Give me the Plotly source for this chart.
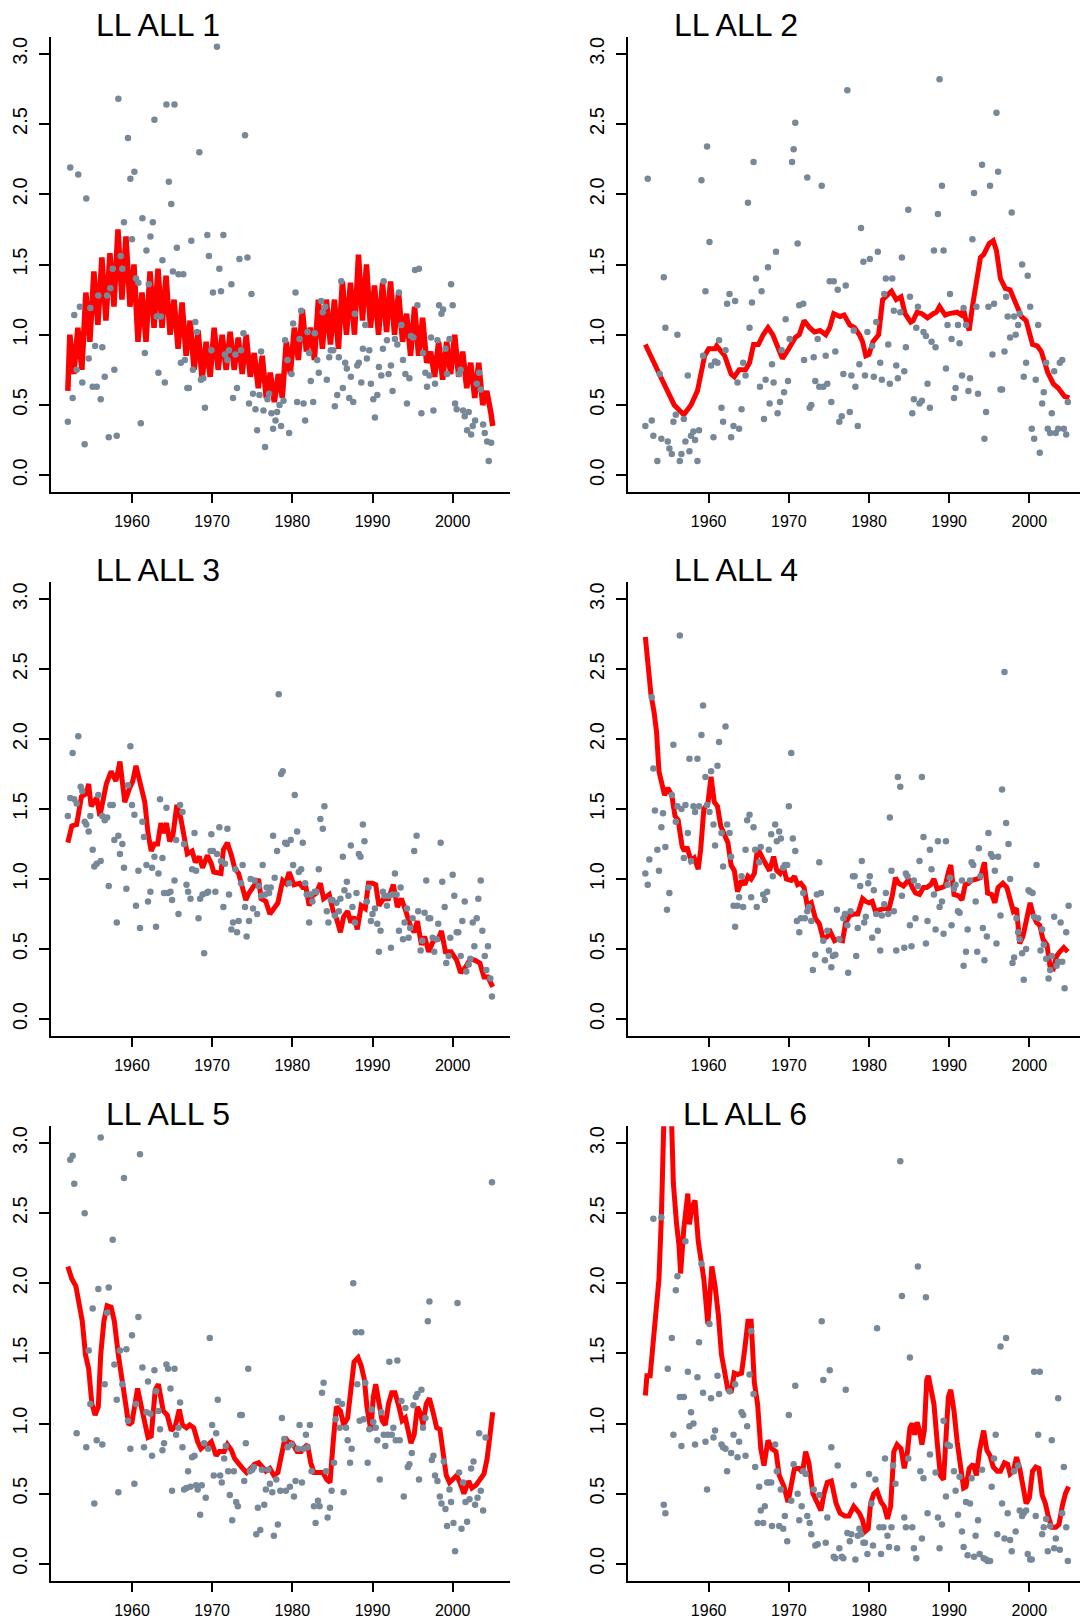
import plotly.graph_objects as go

# ---------------- data: (year, value) pairs ----------------
p1_points = [(1952.0,0.38),(1952.3,2.19),(1952.6,0.55),(1952.8,1.14),(1953.1,0.75),(1953.3,2.14),(1953.5,1.20),(1953.8,0.66),
(1954.1,0.22),(1954.3,1.97),(1954.6,0.83),(1954.8,1.19),(1955.1,0.63),(1955.4,0.92),(1955.6,0.63),(1955.8,1.28),(1956.1,0.54),
(1956.3,0.91),(1956.6,0.70),(1956.9,1.28),(1957.1,0.27),(1957.3,1.33),(1957.6,1.47),(1957.8,0.75),(1958.1,0.28),(1958.3,2.68),
(1958.6,1.56),(1958.8,1.47),(1959.0,1.80),(1959.5,2.40),(1959.8,2.11),(1960.0,1.68),(1960.3,2.16),(1960.5,1.40),(1960.8,1.37),
(1961.1,0.37),(1961.3,1.83),(1961.6,0.87),(1961.8,1.60),(1962.1,1.36),(1962.3,1.70),(1962.6,1.80),(1962.8,2.53),(1963.1,1.13),
(1963.3,0.73),(1963.6,1.13),(1963.8,1.53),(1964.1,0.66),(1964.3,2.64),(1964.6,2.09),(1964.9,1.93),(1965.1,1.45),(1965.3,2.64),
(1965.6,1.62),(1965.8,1.43),(1966.1,0.80),(1966.4,1.43),(1966.6,0.82),(1966.9,0.62),(1967.1,0.62),(1967.4,1.67),(1967.6,0.75),
(1967.9,1.09),(1968.1,1.02),(1968.4,2.30),(1968.6,0.68),(1968.9,0.69),(1969.1,0.48),(1969.4,1.71),(1969.6,1.56),(1969.9,0.89),
(1970.1,1.30),(1970.6,3.05),(1970.9,1.47),(1971.1,1.31),(1971.4,1.71),(1971.6,0.86),(1971.9,0.82),(1972.1,0.89),(1972.4,1.36),
(1972.6,0.55),(1972.9,0.86),(1973.1,0.62),(1973.4,1.54),(1973.6,0.89),(1973.9,1.01),(1974.1,2.42),(1974.4,1.55),(1974.6,0.51),
(1974.9,1.29),(1975.1,0.58),(1975.4,0.47),(1975.6,0.32),(1975.9,0.57),(1976.1,0.88),(1976.4,0.46),(1976.6,0.20),(1976.9,0.54),
(1977.1,0.58),(1977.4,0.44),(1977.6,0.33),(1977.9,0.39),(1978.1,0.45),(1978.4,0.50),(1978.6,0.35),(1978.9,0.53),(1979.1,0.96),
(1979.4,0.82),(1979.6,0.30),(1979.9,0.72),(1980.1,1.08),(1980.4,1.30),(1980.6,0.52),(1980.9,0.97),(1981.1,1.17),(1981.4,0.51),
(1981.6,0.39),(1981.9,1.02),(1982.1,0.87),(1982.3,0.67),(1982.6,0.52),(1982.8,1.01),(1983.1,0.82),(1983.3,0.73),(1983.6,1.24),
(1983.8,1.16),(1984.1,1.20),(1984.3,0.68),(1984.6,0.84),(1984.8,0.89),(1985.1,0.89),(1985.3,0.49),(1985.6,0.57),(1985.8,0.84),
(1986.1,1.38),(1986.3,0.62),(1986.6,0.80),(1986.8,0.76),(1987.1,0.55),(1987.3,0.70),(1987.6,0.52),(1987.8,1.15),(1988.1,0.78),
(1988.3,0.80),(1988.6,0.66),(1988.8,0.90),(1989.1,1.07),(1989.3,0.83),(1989.6,0.89),(1989.8,0.65),(1990.1,0.54),(1990.3,0.41),
(1990.6,0.57),(1990.8,0.77),(1991.1,0.71),(1991.3,0.90),(1991.4,1.38),(1991.8,0.96),(1992.0,0.72),(1992.3,0.78),(1992.5,0.60),
(1992.8,0.97),(1993.1,0.93),(1993.3,1.30),(1993.6,1.07),(1993.8,0.82),(1994.1,0.72),(1994.3,0.51),(1994.6,0.69),(1994.8,0.99),
(1995.1,0.98),(1995.3,1.46),(1995.6,1.21),(1995.8,1.47),(1996.1,0.44),(1996.3,0.87),(1996.6,0.73),(1996.8,0.63),(1997.1,0.71),
(1997.3,0.98),(1997.6,0.46),(1997.8,0.65),(1998.1,0.96),(1998.3,1.21),(1998.6,1.15),(1998.8,1.18),(1999.1,0.90),(1999.3,0.72),
(1999.6,0.97),(1999.8,1.36),(2000.0,1.21),(2000.3,0.51),(2000.5,0.47),(2000.8,0.72),(2001.0,0.75),(2001.3,0.46),(2001.5,0.42),
(2001.8,0.32),(2002.0,0.45),(2002.3,0.29),(2002.5,0.35),(2002.8,0.39),(2003.0,0.65),(2003.3,0.73),(2003.5,0.61),(2003.8,0.36),
(2004.0,0.30),(2004.3,0.24),(2004.5,0.10),(2004.8,0.23)]

# panel 1 fitted line: value at 1952.0, then (peak, trough) per year 1952..2004, then 2005.0
p1_fit_start = 0.60
p1_fit_pairs = [(1.00,0.72),(1.05,0.75),(1.30,0.95),(1.45,1.07),(1.55,1.10),(1.58,1.20),(1.75,1.25),(1.70,1.20),
(1.50,0.95),(1.30,0.95),(1.45,1.05),(1.47,1.05),(1.42,1.00),(1.25,0.90),(1.23,0.85),(1.10,0.75),(1.03,0.68),(0.95,0.70),
(1.05,0.75),(1.00,0.75),(1.02,0.75),(0.98,0.72),(1.00,0.70),(0.87,0.62),(0.85,0.55),(0.73,0.52),(0.72,0.55),(0.95,0.72),
(1.05,0.82),(1.18,0.88),(1.05,0.82),(1.25,0.90),(1.25,0.93),(1.25,0.90),(1.38,1.00),(1.37,1.00),(1.57,1.10),(1.50,1.05),
(1.35,1.00),(1.37,1.02),(1.38,1.00),(1.30,0.95),(1.15,0.85),(1.20,0.85),(1.12,0.80),(0.88,0.70),(0.95,0.68),(0.95,0.72),
(1.00,0.70),(0.88,0.62),(0.80,0.55),(0.80,0.50),(0.60,0.45)]
p1_fit_end = 0.35
p1_fit_first_year = 1952

p2_points = [(1952.1,0.35),(1952.4,2.11),(1952.9,0.39),(1953.1,0.28),(1953.6,0.10),(1953.9,0.72),(1954.1,0.26),(1954.4,1.41),
(1954.6,1.05),(1954.9,0.24),(1955.1,0.19),(1955.4,0.15),(1955.6,0.38),(1955.9,0.43),(1956.1,1.00),(1956.4,0.10),(1956.6,0.15),
(1956.9,0.40),(1957.1,0.24),(1957.4,0.71),(1957.6,0.17),(1957.8,0.28),(1958.1,0.31),(1958.3,0.25),(1958.6,0.10),(1958.8,0.32),
(1959.1,2.10),(1959.3,0.85),(1959.6,1.31),(1959.8,2.34),(1960.1,1.66),(1960.3,0.78),(1960.6,0.27),(1960.8,0.81),(1961.1,0.80),
(1961.3,0.96),(1961.6,0.48),(1961.8,0.38),(1962.1,0.89),(1962.3,1.22),(1962.6,1.29),(1962.8,0.27),(1963.1,0.35),(1963.3,1.24),
(1963.6,0.66),(1963.8,0.33),(1964.1,0.47),(1964.3,0.80),(1964.6,0.71),(1964.9,1.94),(1965.1,1.05),(1965.4,1.23),(1965.6,2.23),
(1965.9,1.40),(1966.4,0.63),(1966.6,1.31),(1966.9,0.40),(1967.1,0.68),(1967.4,1.48),(1967.6,0.51),(1967.9,0.79),(1968.1,0.66),
(1968.4,1.59),(1968.6,0.44),(1968.9,0.52),(1969.1,0.89),(1969.4,0.59),(1969.6,1.11),(1969.9,0.67),(1970.1,0.97),(1970.4,2.23),
(1970.6,2.32),(1970.8,2.51),(1971.1,1.65),(1971.3,1.21),(1971.8,1.22),(1971.9,0.82),(1972.3,2.12),(1972.6,0.48),(1972.8,0.50),
(1973.1,0.84),(1973.3,0.67),(1973.6,0.97),(1973.8,0.63),(1974.1,2.06),(1974.3,0.63),(1974.6,0.85),(1974.8,0.65),(1975.1,1.38),
(1975.3,0.52),(1975.6,1.38),(1975.8,0.88),(1976.1,1.32),(1976.3,0.38),(1976.6,0.42),(1976.8,0.72),(1977.1,1.35),(1977.3,2.74),
(1977.6,0.45),(1977.8,0.71),(1978.1,1.03),(1978.3,0.63),(1978.6,0.35),(1978.8,0.79),(1979.0,1.76),(1979.3,1.52),(1979.5,0.71),
(1979.8,1.02),(1980.1,1.54),(1980.4,0.92),(1980.6,0.70),(1980.9,1.09),(1981.1,1.59),(1981.4,0.80),(1981.6,0.68),(1981.9,1.29),
(1982.1,1.40),(1982.4,0.93),(1982.6,0.65),(1982.9,1.40),(1983.1,1.17),(1983.4,0.78),(1983.6,0.69),(1983.9,1.16),(1984.1,1.55),
(1984.4,0.74),(1984.6,0.91),(1984.9,1.89),(1985.1,1.27),(1985.4,0.44),(1985.6,0.54),(1985.9,1.05),(1986.1,1.20),(1986.3,0.51),
(1986.6,0.53),(1986.8,1.02),(1987.1,0.99),(1987.3,0.65),(1987.6,0.48),(1987.8,0.95),(1988.1,1.60),(1988.3,0.91),(1988.6,1.86),
(1988.8,2.82),(1989.1,2.06),(1989.3,1.60),(1989.6,0.76),(1989.8,1.07),(1990.1,1.29),(1990.3,0.97),(1990.6,0.55),(1990.8,0.62),
(1991.1,1.07),(1991.3,0.94),(1991.6,0.71),(1991.8,1.19),(1992.1,1.07),(1992.4,0.60),(1992.6,0.69),(1992.9,1.68),(1993.1,2.01),
(1993.4,1.20),(1993.6,0.58),(1994.1,2.21),(1994.4,0.26),(1994.6,0.45),(1994.9,1.20),(1995.1,2.06),(1995.4,0.86),(1995.6,1.22),
(1995.9,2.58),(1996.1,2.16),(1996.4,0.61),(1996.6,0.61),(1996.9,0.88),(1997.1,1.27),(1997.3,1.13),(1997.6,0.98),(1997.8,1.87),
(1998.1,1.13),(1998.3,1.00),(1998.6,1.07),(1998.8,1.15),(1999.1,1.50),(1999.3,0.70),(1999.6,0.80),(1999.8,1.42),(2000.1,1.20),
(2000.3,0.33),(2000.6,0.26),(2000.8,0.68),(2001.1,1.07),(2001.3,0.16),(2001.6,0.51),(2001.8,0.59),(2002.1,0.80),(2002.3,0.33),
(2002.6,0.30),(2002.8,0.44),(2003.1,0.74),(2003.3,0.30),(2003.6,0.33),(2003.8,0.80),(2004.1,0.82),(2004.3,0.33),(2004.6,0.29),
(2004.8,0.52)]

p2_fit = [(1952.1,0.93),(1953.5,0.75),(1954.6,0.63),(1955.7,0.50),(1956.9,0.43),(1957.8,0.50),(1958.6,0.60),(1959.5,0.85),
(1960.0,0.90),(1960.8,0.90),(1961.0,0.92),(1962.0,0.85),(1962.8,0.72),(1963.2,0.70),(1963.8,0.75),(1964.6,0.75),(1965.1,0.80),
(1965.6,0.93),(1966.2,0.93),(1966.8,1.00),(1967.4,1.05),(1968.0,1.00),(1968.8,0.88),(1969.2,0.83),(1970.0,0.90),(1970.8,0.98),
(1971.3,1.00),(1971.9,1.10),(1972.6,1.05),(1973.2,1.02),(1973.9,1.03),(1974.6,1.00),(1975.1,1.05),(1975.6,1.15),(1976.4,1.13),
(1976.9,1.14),(1977.6,1.07),(1978.2,1.05),(1978.8,1.00),(1979.2,0.95),(1979.6,0.85),(1980.0,0.86),(1980.5,0.95),(1981.2,1.00),
(1981.7,1.25),(1982.3,1.28),(1982.8,1.31),(1983.4,1.25),(1984.0,1.27),(1984.5,1.15),(1985.2,1.09),(1985.5,1.10),(1986.0,1.16),
(1986.6,1.15),(1987.3,1.12),(1988.0,1.15),(1988.4,1.16),(1988.8,1.20),(1989.5,1.14),(1990.0,1.15),(1991.0,1.16),(1991.5,1.14),
(1991.8,1.18),(1992.1,1.10),(1992.5,1.03),(1992.9,1.20),(1993.5,1.40),(1993.9,1.55),(1994.3,1.57),(1995.0,1.65),(1995.5,1.67),
(1995.9,1.60),(1996.4,1.40),(1997.0,1.33),(1997.6,1.32),(1998.4,1.20),(1999.0,1.13),(1999.6,1.10),(2000.4,0.93),(2001.0,0.92),
(2001.5,0.88),(2002.3,0.73),(2003.0,0.65),(2003.6,0.62),(2004.4,0.56),(2005.0,0.55)]

p3_points = [(1952.0,1.45),(1952.3,1.58),(1952.6,1.90),(1952.8,1.57),(1953.1,1.54),(1953.3,2.02),(1953.6,1.66),(1953.8,1.63),
(1954.1,1.41),(1954.3,1.39),(1954.6,1.34),(1954.8,1.45),(1955.1,1.21),(1955.3,1.09),(1955.6,1.11),(1955.8,1.60),(1956.1,1.13),
(1956.3,1.45),(1956.6,1.42),(1956.9,1.44),(1957.1,0.95),(1957.3,1.53),(1957.6,1.53),(1957.8,1.28),(1958.1,0.69),(1958.3,1.31),
(1958.5,1.18),(1958.8,1.25),(1959.0,1.08),(1959.3,0.93),(1959.5,1.67),(1959.8,1.95),(1960.0,1.53),(1960.3,1.46),(1960.5,0.81),
(1960.8,1.06),(1961.0,0.65),(1961.3,1.41),(1961.5,1.30),(1961.8,1.10),(1962.0,0.84),(1962.3,0.91),(1962.5,1.08),(1962.8,1.16),
(1963.0,0.66),(1963.3,1.04),(1963.5,1.57),(1963.8,1.15),(1964.0,0.90),(1964.3,1.51),(1964.5,0.90),(1964.8,0.91),(1965.0,0.85),
(1965.3,0.99),(1965.5,1.28),(1965.8,0.75),(1966.0,1.53),(1966.3,1.48),(1966.5,1.25),(1966.8,0.96),(1967.0,0.91),(1967.3,0.86),
(1967.5,1.07),(1967.8,1.33),(1968.0,1.06),(1968.3,0.72),(1968.5,0.86),(1968.8,0.89),(1969.0,0.47),(1969.3,0.90),(1969.5,0.91),
(1969.8,1.20),(1969.9,1.32),(1970.1,1.20),(1970.4,0.91),(1970.6,1.18),(1970.9,1.37),(1971.1,1.13),(1971.4,0.80),(1971.6,1.11),
(1971.9,1.36),(1972.1,0.89),(1972.4,0.64),(1972.6,0.69),(1972.9,1.07),(1973.1,0.62),(1973.3,0.70),(1973.6,0.97),(1973.8,1.10),
(1974.1,0.80),(1974.3,0.59),(1974.6,0.70),(1974.8,1.00),(1975.1,0.79),(1975.3,0.99),(1975.6,0.75),(1975.8,0.95),(1976.1,0.88),
(1976.3,1.10),(1976.6,0.89),(1976.8,0.94),(1977.1,0.90),(1977.3,0.94),(1977.6,1.31),(1977.8,1.01),(1978.1,1.20),(1978.3,2.32),
(1978.6,1.75),(1978.8,1.77),(1979.1,1.26),(1979.3,1.25),(1979.6,0.97),(1979.8,1.28),(1980.1,1.10),(1980.3,1.60),(1980.6,1.34),
(1980.8,1.05),(1981.1,1.07),(1981.3,1.26),(1981.6,0.97),(1981.8,0.89),(1982.1,0.69),(1982.3,0.89),(1982.5,0.84),(1982.8,0.91),
(1983.0,0.91),(1983.3,1.07),(1983.5,1.43),(1983.8,1.36),(1984.0,1.52),(1984.3,0.77),(1984.5,0.69),(1984.8,0.85),(1985.0,0.85),
(1985.3,0.74),(1985.5,0.83),(1985.8,0.77),(1986.0,0.86),(1986.3,1.16),(1986.5,0.92),(1986.8,0.98),(1987.0,0.88),(1987.3,1.24),
(1987.5,0.80),(1987.8,0.69),(1988.0,0.90),(1988.3,1.18),(1988.5,1.16),(1988.8,1.39),(1989.0,1.27),(1989.3,0.84),(1989.5,0.94),
(1989.8,0.70),(1990.0,0.75),(1990.3,0.79),(1990.6,0.68),(1990.8,0.48),(1991.0,0.63),(1991.3,0.91),(1991.5,0.88),(1991.8,0.81),
(1992.0,0.88),(1992.3,0.51),(1992.5,0.89),(1992.8,1.04),(1993.0,0.89),(1993.3,0.63),(1993.5,0.94),(1993.8,0.57),(1994.0,0.69),
(1994.3,0.79),(1994.5,0.58),(1994.7,0.65),(1995.0,0.72),(1995.2,1.20),(1995.5,1.31),(1995.7,0.77),(1996.0,0.49),(1996.2,0.56),
(1996.5,0.76),(1996.7,0.99),(1997.0,0.72),(1997.2,0.72),(1997.5,0.58),(1997.7,0.48),(1998.0,0.57),(1998.2,0.68),(1998.5,1.26),
(1998.7,0.98),(1999.0,0.80),(1999.2,0.40),(1999.5,0.45),(1999.7,0.58),(2000.0,1.03),(2000.2,0.88),(2000.5,0.62),(2000.7,0.62),
(2001.0,0.45),(2001.2,0.70),(2001.5,0.84),(2001.7,0.34),(2002.0,0.39),(2002.2,0.43),(2002.5,0.69),(2002.7,0.52),(2003.0,0.72),
(2003.2,0.86),(2003.5,0.99),(2003.7,0.63),(2004.0,0.45),(2004.2,0.35),(2004.4,0.52),(2004.7,0.29),(2004.9,0.16)]

p3_fit = [(1952.0,1.26),(1952.5,1.38),(1953.1,1.39),(1953.7,1.59),(1954.3,1.61),(1954.6,1.68),(1954.9,1.52),(1955.6,1.58),
(1956.0,1.45),(1956.4,1.55),(1956.8,1.68),(1957.4,1.77),(1958.0,1.70),(1958.5,1.84),(1959.1,1.55),(1959.7,1.65),(1960.1,1.70),
(1960.5,1.81),(1961.2,1.63),(1961.6,1.55),(1962.0,1.33),(1962.4,1.20),(1962.8,1.25),(1963.2,1.25),(1963.6,1.40),(1963.9,1.33),
(1964.3,1.40),(1964.7,1.27),(1965.1,1.31),(1965.6,1.53),(1966.1,1.43),(1966.5,1.28),(1966.9,1.18),(1967.5,1.20),(1967.9,1.12),
(1968.4,1.16),(1968.8,1.08),(1969.4,1.17),(1969.9,1.11),(1970.2,1.05),(1971.1,1.04),(1971.4,1.21),(1971.9,1.26),(1972.4,1.17),
(1972.8,1.08),(1973.3,1.04),(1973.7,0.96),(1974.2,0.85),(1974.6,0.90),(1975.3,0.96),(1975.8,1.00),(1976.1,0.86),(1976.7,0.84),
(1977.2,0.75),(1977.7,0.79),(1978.2,0.83),(1978.8,0.99),(1979.2,0.97),(1979.6,1.05),(1980.2,0.96),(1980.9,0.97),(1981.3,0.94),
(1981.7,0.94),(1982.1,0.81),(1982.5,0.88),(1983.0,0.90),(1983.5,0.97),(1983.9,0.86),(1984.6,0.89),(1985.1,0.77),(1985.5,0.72),
(1986.0,0.62),(1986.4,0.73),(1986.9,0.77),(1987.3,0.69),(1987.7,0.73),(1988.1,0.64),(1988.6,0.81),(1989.1,0.79),(1989.5,0.97),
(1990.0,0.97),(1990.4,0.96),(1990.8,0.81),(1991.4,0.86),(1992.0,0.86),(1992.6,0.96),(1993.1,0.80),(1993.6,0.86),(1994.1,0.78),
(1994.7,0.67),(1995.2,0.62),(1995.6,0.70),(1996.1,0.53),(1996.5,0.59),(1997.0,0.48),(1997.6,0.56),(1998.2,0.57),(1998.6,0.63),
(1999.1,0.48),(1999.8,0.48),(2000.5,0.42),(2001.0,0.33),(2001.6,0.37),(2002.2,0.43),(2002.8,0.42),(2003.4,0.40),(2003.9,0.30),
(2004.4,0.30),(2005.0,0.23)]

p4_points = [(1952.1,1.04),(1952.4,0.96),(1952.6,1.14),(1952.9,2.30),(1953.1,1.79),(1953.3,1.49),(1953.6,1.21),(1953.8,1.06),
(1954.1,1.37),(1954.3,1.47),(1954.6,1.23),(1954.8,0.78),(1955.1,0.90),(1955.4,1.60),(1955.6,1.96),(1955.9,1.41),(1956.1,1.52),
(1956.4,2.74),(1956.6,1.50),(1956.9,1.15),(1957.1,1.53),(1957.4,1.33),(1957.6,1.86),(1957.8,1.13),(1958.1,1.52),(1958.3,1.48),
(1958.6,1.86),(1958.8,1.52),(1959.1,2.03),(1959.3,2.24),(1959.6,1.73),(1959.8,1.53),(1960.1,1.48),(1960.3,1.77),(1960.6,1.39),
(1960.8,1.24),(1961.1,1.81),(1961.3,1.98),(1961.6,1.33),(1961.8,1.09),(1962.1,2.09),(1962.3,1.39),(1962.6,1.33),(1962.8,1.16),
(1963.1,0.81),(1963.3,0.66),(1963.6,0.81),(1963.8,0.87),(1964.1,1.02),(1964.3,0.80),(1964.6,1.21),(1964.8,1.42),(1965.1,1.46),
(1965.3,0.87),(1965.6,1.37),(1965.8,1.21),(1966.0,0.80),(1966.3,1.12),(1966.5,1.23),(1966.8,0.89),(1967.0,0.85),(1967.3,0.91),
(1967.5,1.21),(1967.8,1.32),(1968.0,1.02),(1968.3,1.39),(1968.5,1.27),(1968.8,1.34),(1969.0,1.29),(1969.3,1.08),(1969.5,1.10),
(1969.8,1.10),(1970.0,1.52),(1970.3,1.90),(1970.5,1.29),(1970.8,1.20),(1971.0,0.70),(1971.3,0.62),(1971.5,0.72),(1971.8,0.90),
(1972.0,0.72),(1972.3,0.77),(1972.5,0.80),(1972.8,0.70),(1973.0,0.35),(1973.3,0.46),(1973.5,0.89),(1973.8,1.12),(1974.0,0.90),
(1974.3,0.56),(1974.5,0.42),(1974.8,0.63),(1975.0,0.49),(1975.3,0.37),(1975.5,0.45),(1975.8,0.46),(1976.0,0.78),(1976.3,0.57),
(1976.8,0.72),(1977.0,0.75),(1977.3,0.67),(1977.4,0.33),(1977.7,0.77),(1978.0,1.02),(1978.2,1.02),(1978.4,0.45),(1978.6,0.65),
(1978.9,0.95),(1979.1,1.13),(1979.4,0.69),(1979.6,0.73),(1979.9,0.97),(1980.1,1.02),(1980.4,0.58),(1980.6,0.92),(1980.9,0.75),
(1981.1,0.63),(1981.4,0.49),(1981.6,0.74),(1981.9,0.82),(1982.1,0.90),(1982.4,0.75),(1982.6,1.44),(1982.8,1.06),(1983.1,0.77),
(1983.4,0.49),(1983.6,1.73),(1983.9,1.66),(1984.1,0.88),(1984.4,0.51),(1984.6,1.04),(1984.8,1.02),(1985.1,0.67),(1985.3,0.52),
(1985.6,0.99),(1985.8,0.72),(1986.1,0.95),(1986.3,1.13),(1986.6,1.73),(1986.8,1.30),(1987.1,0.54),(1987.3,0.70),(1987.6,1.21),
(1987.8,1.07),(1988.1,0.89),(1988.3,0.64),(1988.6,1.27),(1988.8,0.80),(1989.1,0.84),(1989.3,0.61),(1989.6,1.27),(1989.8,0.96),
(1990.1,1.01),(1990.3,0.67),(1990.6,0.93),(1990.8,0.96),(1991.1,0.77),(1991.3,0.76),(1991.6,0.99),(1991.8,0.38),(1992.1,0.48),
(1992.3,0.64),(1992.6,0.99),(1992.8,1.12),(1993.0,1.10),(1993.3,0.84),(1993.5,0.48),(1993.7,1.22),(1993.9,1.02),(1994.2,0.65),
(1994.4,0.42),(1994.7,0.59),(1994.9,1.33),(1995.2,1.18),(1995.4,1.16),(1995.7,1.06),(1995.9,0.54),(1996.1,1.16),(1996.4,0.74),
(1996.6,1.64),(1996.9,2.48),(1997.1,1.40),(1997.4,1.25),(1997.6,1.00),(1997.9,0.40),(1998.1,0.44),(1998.4,0.72),(1998.6,0.62),
(1998.8,0.57),(1999.1,0.47),(1999.3,0.28),(1999.6,0.50),(1999.9,0.92),(2000.1,0.91),(2000.4,0.90),(2000.6,0.73),(2000.9,1.10),
(2001.1,0.72),(2001.4,0.49),(2001.6,0.64),(2001.8,0.53),(2002.1,0.43),(2002.4,0.29),(2002.6,0.35),(2002.8,0.45),(2003.1,0.73),
(2003.4,0.38),(2003.6,0.41),(2003.9,0.69),(2004.1,0.41),(2004.4,0.22),(2004.6,0.62),(2004.9,0.81)]

p4_fit = [(1952.1,2.73),(1952.5,2.49),(1952.8,2.32),(1953.2,2.19),(1953.5,2.05),(1953.8,1.77),(1954.1,1.70),(1954.5,1.60),
(1954.9,1.65),(1955.4,1.60),(1955.8,1.45),(1956.2,1.42),(1956.7,1.23),(1957.0,1.20),(1957.3,1.23),(1957.8,1.13),(1958.2,1.15),
(1958.7,1.07),(1959.0,1.21),(1959.4,1.50),(1959.9,1.54),(1960.3,1.73),(1960.7,1.55),(1961.1,1.52),(1961.5,1.38),(1961.9,1.32),
(1962.4,1.26),(1962.8,1.10),(1963.2,1.06),(1963.6,0.91),(1964.1,0.99),(1964.5,0.96),(1964.9,1.02),(1965.3,1.00),(1965.7,1.04),
(1966.1,1.22),(1966.5,1.17),(1967.0,1.12),(1967.6,1.06),(1968.1,1.16),(1968.5,1.06),(1968.9,1.04),(1969.3,1.09),(1969.7,1.00),
(1970.3,0.99),(1970.7,1.02),(1971.1,0.96),(1971.5,0.97),(1971.9,0.94),(1972.3,0.81),(1972.8,0.83),(1973.3,0.72),(1973.8,0.68),
(1974.3,0.57),(1974.8,0.59),(1975.2,0.62),(1975.7,0.56),(1976.1,0.57),(1976.7,0.56),(1977.1,0.69),(1977.6,0.74),(1978.1,0.75),
(1978.6,0.75),(1979.2,0.86),(1979.6,0.84),(1980.0,0.83),(1980.4,0.84),(1980.8,0.77),(1981.3,0.78),(1981.9,0.79),(1982.5,0.79),
(1982.9,0.88),(1983.3,1.01),(1983.7,0.97),(1984.3,0.95),(1985.0,1.00),(1985.4,0.94),(1985.8,0.90),(1986.3,0.89),(1986.8,0.94),
(1987.2,0.94),(1987.7,0.96),(1988.1,1.00),(1988.5,0.93),(1989.1,0.94),(1989.5,0.95),(1989.9,1.05),(1990.2,1.10),(1990.6,0.89),
(1991.2,0.88),(1991.6,0.85),(1992.0,0.96),(1992.4,0.97),(1992.8,0.99),(1993.4,1.00),(1993.9,1.01),(1994.4,1.12),(1994.8,0.90),
(1995.3,0.89),(1995.7,0.83),(1996.1,0.94),(1996.7,0.97),(1997.2,0.94),(1997.6,0.84),(1998.0,0.77),(1998.4,0.79),(1998.8,0.54),
(1999.2,0.59),(1999.7,0.74),(2000.1,0.83),(2000.5,0.74),(2000.9,0.69),(2001.3,0.67),(2001.7,0.57),(2002.2,0.53),(2002.6,0.37),
(2003.0,0.36),(2003.4,0.45),(2003.8,0.48),(2004.3,0.51),(2004.8,0.48)]

p5_points = [(1952.3,2.88),(1952.6,2.91),(1952.8,2.71),(1953.1,0.93),(1954.1,2.50),(1954.3,0.83),(1954.6,1.52),(1954.8,1.14),
(1955.1,1.82),(1955.3,0.43),(1955.6,0.88),(1955.8,1.96),(1956.1,3.04),(1956.3,0.85),(1956.6,1.28),(1956.9,1.79),(1957.1,1.97),
(1957.6,2.31),(1957.8,1.42),(1958.1,1.17),(1958.3,0.51),(1958.5,1.52),(1958.8,1.28),(1959.0,2.75),(1959.3,1.53),(1959.5,1.02),
(1959.8,0.82),(1960.0,1.63),(1960.3,0.57),(1960.5,1.14),(1960.8,1.76),(1961.0,2.92),(1961.3,1.40),(1961.5,0.83),(1961.8,1.08),
(1962.0,1.30),(1962.3,1.07),(1962.5,0.77),(1962.8,1.38),(1963.0,1.23),(1963.3,1.09),(1963.5,0.96),(1963.8,0.81),(1964.0,0.86),
(1964.3,1.42),(1964.5,1.39),(1964.8,1.25),(1965.0,0.52),(1965.3,1.39),(1965.5,0.92),(1965.8,0.97),(1966.0,1.15),(1966.3,0.83),
(1966.5,0.53),(1966.8,0.54),(1967.0,0.66),(1967.3,0.55),(1967.5,0.76),(1967.8,0.77),(1968.0,0.56),(1968.2,0.53),(1968.5,0.35),
(1968.7,0.56),(1969.0,0.86),(1969.2,0.47),(1969.5,0.82),(1969.7,1.61),(1970.0,0.99),(1970.2,0.63),(1970.5,0.93),(1970.7,1.17),
(1971.0,0.63),(1971.2,0.58),(1971.5,0.75),(1971.7,0.84),(1972.0,0.66),(1972.2,0.49),(1972.5,0.31),(1972.7,0.66),(1973.0,0.44),
(1973.2,0.41),(1973.5,1.06),(1973.7,1.06),(1974.0,0.59),(1974.2,0.86),(1974.5,1.39),(1974.7,0.66),(1975.0,0.67),(1975.2,0.69),
(1975.5,0.21),(1975.7,0.40),(1976.0,0.24),(1976.2,0.67),(1976.5,0.42),(1976.7,0.53),(1977.0,0.67),(1977.2,0.57),(1977.5,0.51),
(1977.7,0.20),(1978.0,0.60),(1978.2,0.28),(1978.5,0.52),(1978.7,1.04),(1979.0,0.89),(1979.2,0.52),(1979.4,0.83),(1979.7,0.55),
(1979.9,0.85),(1980.2,0.48),(1980.4,0.59),(1980.7,0.82),(1980.9,0.99),(1981.2,0.58),(1981.4,0.82),(1981.7,0.92),(1981.9,0.83),
(1982.2,0.99),(1982.4,0.66),(1982.7,0.41),(1982.9,0.29),(1983.2,0.45),(1983.4,0.41),(1983.7,1.22),(1983.9,1.29),(1984.2,0.66),
(1984.4,0.33),(1984.7,0.40),(1984.9,0.52),(1985.2,0.72),(1985.4,1.03),(1985.7,1.16),(1985.9,0.97),(1986.2,1.14),(1986.4,0.51),
(1986.7,0.97),(1986.9,0.88),(1987.2,0.72),(1987.4,0.82),(1987.6,2.00),(1987.9,1.65),(1988.1,1.28),(1988.4,1.02),(1988.6,1.65),
(1988.9,1.03),(1989.1,1.29),(1989.4,0.72),(1989.6,0.96),(1989.9,1.10),(1990.1,1.01),(1990.4,0.97),(1990.6,0.88),(1990.9,0.60),
(1991.1,1.08),(1991.4,0.92),(1991.6,0.84),(1991.9,0.92),(1992.1,1.44),(1992.4,0.92),(1992.6,0.97),(1992.9,0.88),(1993.1,1.45),
(1993.4,0.88),(1993.6,1.16),(1993.9,0.48),(1994.1,1.11),(1994.4,0.69),(1994.6,0.71),(1994.9,0.79),(1995.1,1.13),(1995.4,1.19),
(1995.6,1.21),(1995.8,0.60),(1996.1,1.24),(1996.3,0.97),(1996.6,1.04),(1996.9,1.73),(1997.1,1.87),(1997.4,0.74),(1997.6,0.77),
(1997.8,0.63),(1998.1,0.59),(1998.4,0.48),(1998.6,0.43),(1998.9,0.73),(1999.1,0.39),(1999.3,0.27),(1999.6,0.53),(1999.8,0.44),
(2000.1,0.29),(2000.3,0.09),(2000.6,1.86),(2000.8,0.65),(2001.1,0.25),(2001.3,0.58),(2001.6,0.44),(2001.8,0.30),(2002.1,0.46),
(2002.3,0.68),(2002.6,0.73),(2002.8,0.42),(2003.1,0.47),(2003.3,0.93),(2003.5,0.52),(2003.8,0.38),(2004.1,0.90),(2004.9,2.72)]

p5_fit = [(1952.0,2.12),(1952.5,2.03),(1953.0,1.98),(1953.4,1.85),(1953.8,1.73),(1954.2,1.49),(1954.6,1.39),(1955.0,1.14),
(1955.4,1.06),(1955.8,1.12),(1956.1,1.49),(1956.5,1.73),(1956.9,1.84),(1957.4,1.83),(1957.8,1.73),(1958.3,1.49),(1958.8,1.31),
(1959.2,1.13),(1959.6,0.99),(1960.0,1.01),(1960.4,1.14),(1960.7,1.25),(1961.1,1.14),(1961.6,0.99),(1962.0,0.90),(1962.4,0.91),
(1962.9,1.24),(1963.3,1.28),(1963.9,1.09),(1964.4,1.06),(1964.9,0.95),(1965.4,0.98),(1965.9,1.10),(1966.3,0.99),(1966.8,0.97),
(1967.2,0.99),(1967.7,0.97),(1968.2,0.87),(1968.6,0.82),(1969.0,0.84),(1969.5,0.85),(1969.9,0.87),(1970.5,0.77),(1970.9,0.80),
(1971.5,0.80),(1971.9,0.85),(1972.4,0.81),(1972.8,0.75),(1973.3,0.71),(1973.8,0.68),(1974.3,0.65),(1974.8,0.68),(1975.3,0.71),
(1975.8,0.72),(1976.2,0.69),(1976.7,0.66),(1977.2,0.68),(1977.7,0.63),(1978.2,0.65),(1978.7,0.80),(1979.1,0.90),(1979.5,0.87),
(1980.0,0.86),(1980.6,0.80),(1981.1,0.80),(1981.5,0.83),(1981.9,0.85),(1982.3,0.72),(1982.7,0.65),(1983.3,0.65),(1983.8,0.65),
(1984.3,0.60),(1984.7,0.58),(1985.1,0.87),(1985.5,1.12),(1986.0,1.09),(1986.4,0.99),(1986.9,1.04),(1987.3,1.24),(1987.7,1.44),
(1988.2,1.47),(1988.6,1.41),(1989.0,1.31),(1989.3,1.12),(1989.8,0.95),(1990.1,1.19),(1990.4,1.28),(1990.8,1.14),(1991.2,1.02),
(1991.6,0.99),(1992.0,1.14),(1992.4,1.22),(1992.8,1.22),(1993.3,1.12),(1993.7,1.02),(1994.1,1.04),(1994.4,0.97),(1994.8,0.86),
(1995.2,0.92),(1995.6,1.12),(1996.0,1.07),(1996.3,0.99),(1996.7,1.14),(1997.1,1.18),(1997.6,1.07),(1998.0,0.97),(1998.4,0.96),
(1998.8,0.80),(1999.2,0.63),(1999.6,0.58),(2000.1,0.61),(2000.5,0.63),(2000.9,0.58),(2001.4,0.50),(2002.0,0.59),(2002.4,0.54),
(2002.9,0.56),(2003.4,0.60),(2003.9,0.64),(2004.3,0.75),(2004.7,0.95),(2005.0,1.08)]

p6_points = [(1953.1,2.46),(1954.1,2.47),(1954.4,0.42),(1954.6,0.36),(1954.9,1.39),(1955.4,1.61),(1955.6,0.92),(1955.9,1.95),
(1956.1,2.05),(1956.4,1.19),(1956.6,0.84),(1956.9,1.19),(1957.1,2.30),(1957.4,1.37),(1957.6,0.98),(1957.8,1.08),(1958.1,1.00),
(1958.3,0.85),(1958.6,1.33),(1958.8,1.58),(1959.1,2.14),(1959.3,1.22),(1959.6,0.87),(1959.8,0.53),(1960.1,1.71),(1960.3,1.18),
(1960.6,0.90),(1960.8,0.95),(1961.1,1.34),(1961.3,1.21),(1961.6,0.85),(1961.8,0.83),(1962.1,0.82),(1962.3,0.66),(1962.6,1.23),
(1962.8,0.79),(1963.1,0.92),(1963.3,1.28),(1963.6,0.76),(1963.8,0.87),(1964.1,1.08),(1964.3,1.06),(1964.6,0.77),(1964.8,0.98),
(1965.1,1.35),(1965.3,1.66),(1965.6,1.21),(1965.8,0.69),(1966.1,0.29),(1966.3,0.55),(1966.5,0.38),(1966.8,0.29),(1967.0,0.41),
(1967.3,0.58),(1967.5,0.58),(1967.8,0.58),(1967.9,0.27),(1968.3,0.85),(1968.5,0.66),(1968.8,0.27),(1969.0,0.53),(1969.3,0.25),
(1969.5,0.34),(1969.8,0.16),(1970.0,1.06),(1970.3,0.45),(1970.6,0.71),(1970.8,1.27),(1971.1,0.50),(1971.3,0.31),(1971.6,0.41),
(1971.8,0.66),(1972.1,0.64),(1972.3,0.34),(1972.6,0.29),(1972.8,0.21),(1973.1,0.53),(1973.3,0.13),(1973.6,0.14),(1973.8,0.49),
(1974.1,1.73),(1974.3,1.31),(1974.6,0.15),(1974.8,0.33),(1975.1,1.38),(1975.3,0.83),(1975.6,0.05),(1975.8,0.04),(1976.1,0.70),
(1976.3,0.11),(1976.6,0.05),(1976.8,0.04),(1977.1,1.24),(1977.3,0.22),(1977.6,0.16),(1977.8,0.21),(1978.1,0.56),(1978.3,0.03),
(1978.6,0.20),(1978.8,0.25),(1979.0,0.21),(1979.3,0.15),(1979.5,0.15),(1979.8,0.07),(1980.0,0.64),(1980.3,0.43),(1980.5,0.13),
(1980.8,0.60),(1981.0,1.68),(1981.3,0.26),(1981.5,0.07),(1981.8,0.26),(1982.0,0.75),(1982.3,0.20),(1982.5,0.12),(1982.8,0.26),
(1983.0,0.70),(1983.3,0.57),(1983.5,0.11),(1983.9,2.87),(1984.1,1.91),(1984.4,0.33),(1984.6,0.26),(1984.9,0.75),(1985.1,1.47),
(1985.4,0.26),(1985.6,0.11),(1985.9,0.04),(1986.1,2.12),(1986.4,0.66),(1986.6,0.18),(1986.8,0.61),(1987.1,1.90),(1987.3,0.36),
(1987.6,0.78),(1988.3,0.65),(1988.6,0.33),(1988.8,0.11),(1989.1,0.28),(1989.3,1.02),(1989.6,0.48),(1989.8,0.85),(1990.1,0.84),
(1990.6,0.66),(1990.8,0.52),(1991.1,0.35),(1991.3,0.62),(1991.6,0.23),(1991.8,0.12),(1992.1,0.44),(1992.3,0.06),(1992.6,0.43),
(1992.8,0.61),(1993.1,0.05),(1993.3,0.20),(1993.6,0.31),(1993.8,0.07),(1994.1,0.67),(1994.3,0.04),(1994.6,0.03),(1994.8,0.02),
(1995.1,0.02),(1995.3,0.55),(1995.6,0.75),(1995.8,0.92),(1996.0,0.21),(1996.4,1.55),(1996.6,0.43),(1996.9,0.18),(1997.1,1.61),
(1997.3,0.36),(1997.6,0.17),(1997.8,0.09),(1998.1,0.66),(1998.3,0.23),(1998.6,0.70),(1998.8,0.38),(1999.1,0.34),(1999.3,0.36),
(1999.6,0.38),(1999.8,0.07),(2000.1,0.03),(2000.3,0.03),(2000.6,1.37),(2000.8,0.34),(2001.1,0.92),(2001.3,1.37),(2001.6,0.21),
(2001.8,0.26),(2002.1,0.32),(2002.3,0.09),(2002.6,0.27),(2002.8,0.88),(2003.1,0.11),(2003.3,0.18),(2003.6,1.18),(2003.8,0.10),
(2004.1,0.36),(2004.3,0.69),(2004.6,0.26),(2004.8,0.02)]

p6_fit = [(1952.1,1.20),(1952.3,1.34),(1952.7,1.34),(1953.0,1.53),(1953.3,1.78),(1953.5,1.81),(1953.8,2.03),(1954.1,2.47),
(1954.3,3.30),(1954.7,3.80),(1955.1,3.70),(1955.4,3.15),(1955.6,2.71),(1956.0,2.42),(1956.3,2.27),(1956.5,2.07),(1956.9,2.39),
(1957.4,2.64),(1957.6,2.42),(1957.9,2.54),(1958.3,2.59),(1958.7,2.30),(1959.1,2.17),(1959.4,2.03),(1959.9,1.71),(1960.4,2.12),
(1960.8,1.98),(1961.2,1.78),(1961.6,1.49),(1962.0,1.36),(1962.4,1.24),(1962.8,1.22),(1963.2,1.36),(1963.6,1.35),(1964.1,1.36),
(1964.5,1.53),(1964.9,1.73),(1965.3,1.73),(1965.7,1.29),(1966.1,1.14),(1966.5,0.82),(1966.9,0.70),(1967.4,0.88),(1967.9,0.82),
(1968.4,0.80),(1968.8,0.63),(1969.4,0.55),(1969.9,0.44),(1970.3,0.55),(1970.7,0.68),(1971.3,0.68),(1971.7,0.65),(1972.1,0.80),
(1972.5,0.72),(1973.0,0.50),(1973.5,0.43),(1974.0,0.38),(1974.4,0.50),(1974.8,0.58),(1975.3,0.59),(1975.9,0.43),(1976.4,0.36),
(1977.0,0.34),(1977.5,0.34),(1978.1,0.41),(1978.8,0.36),(1979.2,0.31),(1979.5,0.23),(1979.9,0.25),(1980.2,0.43),(1980.6,0.50),
(1981.0,0.52),(1981.5,0.44),(1981.9,0.41),(1982.3,0.32),(1982.7,0.41),(1983.1,0.80),(1983.5,0.85),(1984.0,0.82),(1984.4,0.68),
(1984.8,0.80),(1985.1,0.97),(1985.4,1.00),(1985.7,0.92),(1986.0,1.01),(1986.3,0.95),(1986.6,0.85),(1986.9,0.95),(1987.2,1.31),
(1987.4,1.34),(1987.7,1.24),(1988.1,1.14),(1988.5,0.87),(1988.9,0.63),(1989.3,0.60),(1989.6,0.95),(1989.9,1.19),(1990.2,1.24),
(1990.6,1.09),(1991.0,0.87),(1991.4,0.68),(1991.8,0.54),(1992.1,0.55),(1992.5,0.68),(1993.0,0.71),(1993.4,0.63),(1993.8,0.81),
(1994.3,0.95),(1994.7,0.81),(1995.1,0.77),(1995.5,0.69),(1996.0,0.66),(1996.4,0.66),(1996.9,0.72),(1997.3,0.71),(1997.6,0.64),
(1998.0,0.66),(1998.4,0.76),(1998.8,0.68),(1999.2,0.55),(1999.6,0.43),(2000.0,0.47),(2000.4,0.66),(2000.8,0.69),(2001.2,0.68),
(2001.6,0.49),(2002.0,0.43),(2002.4,0.33),(2002.8,0.26),(2003.3,0.26),(2003.7,0.28),(2004.1,0.41),(2004.5,0.50),(2004.9,0.55)]

titles = ["LL ALL 1", "LL ALL 2", "LL ALL 3", "LL ALL 4", "LL ALL 5", "LL ALL 6"]
y_tick_vals = [0, 0.5, 1.0, 1.5, 2.0, 2.5, 3.0]
y_tick_text = ["0.0", "0.5", "1.0", "1.5", "2.0", "2.5", "3.0"]
x_tick_vals = [1960, 1970, 1980, 1990, 2000]

# panel 1 fitted line: peaks a quarter into each year, troughs three quarters in
p1_fit_year = [float(p1_fit_first_year)]
p1_fit_val = [p1_fit_start]
for k, (hi, lo) in enumerate(p1_fit_pairs):
    yr = p1_fit_first_year + k
    p1_fit_year += [yr + 0.25, yr + 0.75]
    p1_fit_val += [hi, lo]
p1_fit_year.append(float(p1_fit_first_year + len(p1_fit_pairs)))
p1_fit_val.append(p1_fit_end)

def unzip(pairs):
    return [p[0] for p in pairs], [p[1] for p in pairs]

panels = [
    (p1_points, (p1_fit_year, p1_fit_val)),
    (p2_points, unzip(p2_fit)),
    (p3_points, unzip(p3_fit)),
    (p4_points, unzip(p4_fit)),
    (p5_points, unzip(p5_fit)),
    (p6_points, unzip(p6_fit)),
]

# ---------------- layout geometry (pixels in a 1080x1620 page) ----------------
W, H = 1080, 1620
col_px = [(51, 510), (627.7, 1080)]
row_px = [(37, 492), (582.4, 1035.8), (1126.2, 1580.6)]
x_ranges = [[1949.9, 2007.15], [1949.9, 2006.32]]
title_px = [(94, 24.5), (671.7, 24.5), (94, 570), (671.7, 570), (104, 1114), (680.7, 1114)]

FONT = "Liberation Sans, Arial, Helvetica, sans-serif"
POINT_COLOR = "#778899"
LINE_COLOR = "#FF0000"

fig = go.Figure()
layout_axes = {}
annotations = []
for i, (pts, (fy, fv)) in enumerate(panels):
    r, c = divmod(i, 2)
    xa = "x" if i == 0 else f"x{i+1}"
    ya = "y" if i == 0 else f"y{i+1}"
    py, pv = unzip(pts)
    fig.add_trace(go.Scatter(x=fy, y=fv, mode="lines", xaxis=xa, yaxis=ya,
                             line=dict(color=LINE_COLOR, width=5.5 if i == 0 else 5),
                             showlegend=False, hoverinfo="skip"))
    fig.add_trace(go.Scatter(x=py, y=pv, mode="markers", xaxis=xa, yaxis=ya,
                             marker=dict(color=POINT_COLOR, size=6.5, line=dict(width=0)),
                             showlegend=False))
    x0, x1 = col_px[c]
    t, b = row_px[r]
    layout_axes["xaxis" if i == 0 else f"xaxis{i+1}"] = dict(
        domain=[x0 / W, x1 / W], range=x_ranges[c], anchor=ya,
        showline=True, linecolor="black", linewidth=2, mirror=False,
        showgrid=False, zeroline=False,
        ticks="outside", ticklen=9, tickwidth=1.6, tickcolor="black",
        tickvals=x_tick_vals, ticktext=[str(v) for v in x_tick_vals],
        tickfont=dict(family=FONT, size=16, color="black"),
        ticklabelstandoff=5, fixedrange=True)
    layout_axes["yaxis" if i == 0 else f"yaxis{i+1}"] = dict(
        domain=[1 - b / H, 1 - t / H], range=[-0.12, 3.12], anchor=xa,
        showline=True, linecolor="black", linewidth=2, mirror=False,
        showgrid=False, zeroline=False,
        ticks="outside", ticklen=10, tickwidth=1.6, tickcolor="black",
        tickvals=y_tick_vals, ticktext=y_tick_text, tickangle=-90,
        tickfont=dict(family=FONT, size=20, color="black"),
        ticklabelstandoff=4, fixedrange=True)
    tx, ty = title_px[i]
    annotations.append(dict(text=titles[i], xref="paper", yref="paper",
                            x=tx / W, y=1 - ty / H, xanchor="left", yanchor="middle",
                            showarrow=False, font=dict(family=FONT, size=32, color="black")))

fig.update_layout(width=W, height=H, margin=dict(l=0, r=0, t=0, b=0),
                  paper_bgcolor="white", plot_bgcolor="white",
                  annotations=annotations, **layout_axes)

fig.write_html("out.html", include_plotlyjs=True, full_html=True,
               config={"displayModeBar": False})
